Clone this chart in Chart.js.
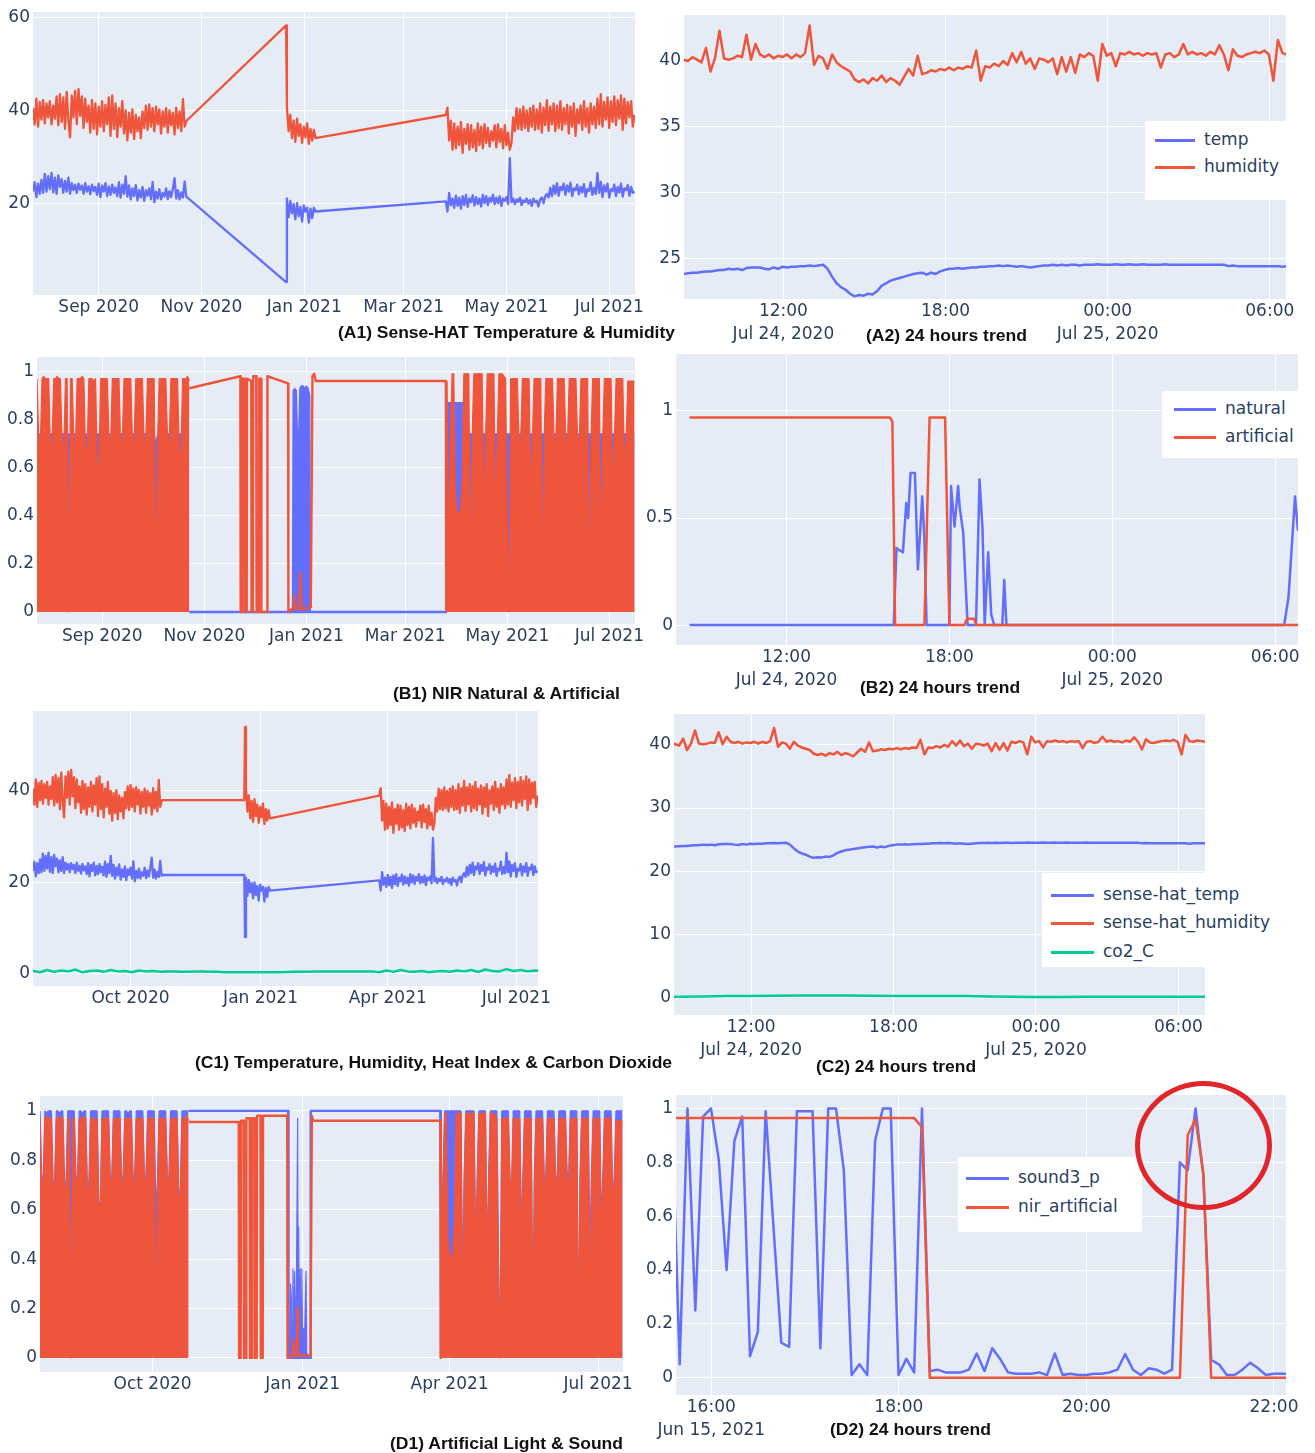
<!DOCTYPE html>
<html>
<head>
<meta charset="utf-8">
<title>Sense-HAT, NIR and sound trends</title>
<script src="https://cdn.jsdelivr.net/npm/chart.js@4.4.0/dist/chart.umd.min.js"></script>
<style>
  html, body { margin: 0; padding: 0; background: #fff; }
  body { position: relative; width: 1315px; height: 1453px; overflow: hidden; }
  canvas { position: absolute; }
  .cap { position: absolute; white-space: nowrap; font-family: "Liberation Sans Narrow", "Liberation Sans", Arial, sans-serif;
         font-weight: bold; font-size: 17px; line-height: 20px; color: #111; transform-origin: 0 50%; z-index: 2; }
  .leg { position: absolute; background: #fff; z-index: 2; }
  .leg .ln { position: absolute; height: 3px; }
  .leg .tx { position: absolute; white-space: nowrap; font: 17px "DejaVu Sans", sans-serif; line-height: 22px; color: #2a3f5f; }
  .ring { position: absolute; z-index: 3; border: 5px solid #e0262b; border-radius: 50%; box-sizing: border-box; }
</style>
</head>
<body>
<script>
const BLUE = '#636efa', RED = '#ef553b', GREEN = '#00cc96', TXT = '#2a3f5f';

// year charts: x = days since 24 Jul 2020
const DAY0 = Date.UTC(2020, 6, 24);
const dayOf = (y, m) => (Date.UTC(y, m - 1, 1) - DAY0) / 864e5;

const yearTicksA = [[2020, 9], [2020, 11], [2021, 1], [2021, 3], [2021, 5], [2021, 7]];
const yearLabelsA = ['Sep 2020', 'Nov 2020', 'Jan 2021', 'Mar 2021', 'May 2021', 'Jul 2021'];
const yearTicksC = [[2020, 10], [2021, 1], [2021, 4], [2021, 7]];
const yearLabelsC = ['Oct 2020', 'Jan 2021', 'Apr 2021', 'Jul 2021'];
// 24h charts: x = hours since 00:00 24 Jul 2020
const dayTicks = [12, 18, 24, 30];
const dayLabels = [['12:00', 'Jul 24, 2020'], '18:00', ['00:00', 'Jul 25, 2020'], '06:00'];
// D2: hours of 15 Jun 2021
const eveTicks = [16, 18, 20, 22];
const eveLabels = [['16:00', 'Jun 15, 2021'], '18:00', '20:00', '22:00'];

// ---- sense-hat humidity / temperature, one reading per day ----
// 24 Jul - 23 Oct 2020
const humSeg1 = [40.5, 37.0, 42.5, 36.5, 41.8, 38.0, 42.2, 37.2, 41.5, 38.5,
  42.0, 37.0, 41.0, 38.2, 43.0, 36.8, 43.5, 37.5, 42.8, 36.0,
  44.0, 37.8, 34.2, 43.2, 38.5, 44.2, 37.0, 44.6, 38.8, 43.0,
  36.2, 42.5, 37.5, 41.0, 35.2, 42.2, 36.0, 41.5, 34.8, 40.8,
  36.5, 42.0, 35.5, 41.2, 37.0, 42.8, 34.5, 43.2, 36.0, 41.5,
  34.2, 40.5, 36.5, 42.0, 35.0, 40.0, 33.5, 39.5, 35.2, 40.2,
  33.8, 39.0, 35.5, 38.5, 34.0, 39.8, 36.2, 41.0, 35.8, 41.3,
  36.5, 40.5, 35.5, 40.8, 37.0, 40.2, 35.0, 39.8, 36.5, 40.5,
  35.2, 40.0, 36.8, 39.5, 34.8, 40.6, 36.2, 39.8, 35.5, 42.4,
  36.5, 37.7];
const tempSeg1 = [22.5, 24.5, 21.3, 24.2, 22.0, 25.0, 22.2, 26.3, 22.5, 25.8,
  23.0, 26.5, 22.3, 25.5, 22.0, 26.0, 23.5, 25.2, 22.2, 24.8,
  22.5, 25.5, 22.0, 24.3, 22.8, 24.0, 22.2, 24.2, 22.9, 23.8,
  22.0, 24.3, 22.5, 23.6, 21.9, 24.0, 22.6, 23.5, 21.8, 24.2,
  21.3, 23.8, 22.5, 24.3, 21.5, 23.6, 21.8, 24.0, 22.2, 23.4,
  21.5, 24.5, 21.2, 24.0, 22.0, 25.8, 21.4, 23.8, 20.8, 23.2,
  21.5, 23.9, 20.6, 22.8, 21.2, 23.5, 20.5, 22.8, 21.6, 23.2,
  20.8, 24.6, 20.2, 22.5, 21.0, 23.0, 20.8, 22.2, 21.4, 23.2,
  20.9, 22.6, 21.3, 23.1, 25.4, 21.0, 22.8, 20.8, 22.3, 21.2,
  24.7, 21.4];
// 21 Dec 2020 - 7 Jan 2021
const humSeg2 = [40.6, 35.5, 39.0, 34.0, 37.8, 33.2, 38.2, 34.5, 37.0, 33.0, 36.5, 34.2, 37.2, 32.8, 36.0, 33.5, 35.8, 34.0];
const tempSeg2 = [21.0, 17.0, 20.5, 17.8, 19.8, 16.5, 20.0, 17.2, 19.2, 16.0, 19.5, 18.2, 19.0, 15.8, 18.8, 16.8, 19.0, 18.2];
// 26 Mar - 16 Jul 2021
const humSeg3 = [39.0, 40.6, 33.5, 37.8, 31.5, 37.2, 31.8, 36.5, 32.5, 37.5,
  30.8, 36.0, 32.8, 37.0, 31.5, 36.8, 32.0, 35.8, 31.2, 37.2,
  32.5, 36.5, 31.8, 37.0, 33.0, 36.2, 32.2, 35.5, 33.5, 36.8,
  32.0, 37.0, 33.2, 36.0, 31.8, 36.8, 32.5, 35.2, 31.5, 33.0,
  38.5, 35.5, 40.5, 36.0, 40.2, 35.8, 40.8, 36.2, 40.0, 35.5,
  40.5, 36.5, 41.0, 35.8, 40.2, 36.0, 41.5, 35.2, 40.6, 36.8,
  42.2, 35.6, 40.8, 37.0, 41.5, 35.5, 41.0, 36.2, 42.0, 35.8,
  40.5, 37.0, 41.2, 35.0, 40.8, 36.5, 41.5, 34.5, 40.2, 37.2,
  41.0, 35.8, 42.0, 36.5, 40.5, 35.2, 41.5, 37.0, 40.8, 36.2,
  42.5, 37.0, 43.5, 36.5, 41.8, 38.0, 42.8, 36.2, 42.0, 37.5,
  43.0, 36.8, 42.2, 38.2, 43.2, 35.8, 42.5, 37.2, 41.8, 38.5,
  42.0, 36.5, 39.0];
const tempSeg3 = [20.4, 18.2, 22.2, 19.5, 21.0, 19.0, 21.6, 19.4, 21.2, 18.8,
  21.5, 19.6, 21.8, 19.2, 21.0, 20.2, 21.7, 19.5, 21.3, 19.8,
  21.0, 19.3, 21.8, 20.0, 21.5, 19.6, 21.2, 20.3, 21.8, 19.8,
  21.2, 20.0, 21.5, 19.4, 21.0, 20.5, 21.3, 19.8, 29.7, 20.2,
  21.0, 19.8, 20.8, 20.3, 21.2, 19.6, 20.6, 20.2, 21.0, 19.9,
  20.7, 19.4, 21.0, 20.2, 20.5, 19.3, 20.8, 21.2, 20.0, 21.5,
  22.0, 21.2, 23.3, 21.5, 23.8, 22.0, 24.3, 21.6, 23.5, 22.8,
  24.2, 21.8, 23.8, 22.5, 24.4, 21.5, 23.2, 22.8, 24.0, 21.9,
  23.5, 22.3, 24.1, 21.4, 23.0, 22.6, 24.5, 21.8, 23.3, 22.0,
  26.5, 22.2, 24.6, 21.3, 23.8, 22.5, 24.2, 21.2, 23.0, 22.6,
  24.0, 21.5, 23.5, 22.3, 24.2, 21.4, 23.2, 22.8, 23.9, 21.6,
  23.5, 22.2, 22.5];
const SEG2_START = 150.7, SEG3_START = 245;
const a1GapX = [150.2], a1HumGap = [58.3], a1TempGap = [3.0];
const c1GapX = [91.5, 149.5, 150.0], c1HumGap = [38.0, 38.0, 54.0], c1TempGap = [21.6, 21.6, 8.0];
// co2_C, every 5 days
const co2Year = [0.6, 0.3, 0.8, 0.4, 0.7, 0.5, 0.9, 0.3, 0.6, 0.7, 0.4, 0.8, 0.5, 0.6, 0.3, 0.7, 0.5, 0.6, 0.4,
  0.5, 0.5, 0.4, 0.4, 0.5, 0.5, 0.4, 0.4, 0.3, 0.3, 0.3, 0.3, 0.3, 0.3, 0.3, 0.3, 0.3, 0.35, 0.4, 0.4, 0.4, 0.45, 0.5, 0.5, 0.5, 0.5, 0.5, 0.5, 0.45, 0.5,
  0.3, 0.7, 0.4, 0.8, 0.5, 0.4, 0.6, 0.3, 0.5, 0.6, 0.4, 0.7, 0.5, 0.8, 0.4, 0.9, 0.6, 0.5, 1.0, 0.6, 0.8, 0.5, 0.7, 0.6];

// ---- NIR artificial / natural and sound: daily peak level in % ----
const artSeg1 = [97, 72, 70, 97, 98, 97, 97, 97, 68, 70, 97, 97, 98, 97, 97, 70, 68, 97, 97, 0, 97,
  97, 72, 70, 97, 97, 97, 98, 97, 66, 68, 97, 97, 97, 96, 97, 62, 60, 97, 97, 97, 97,
  97, 72, 70, 97, 97, 97, 97, 97, 68, 72, 97, 97, 97, 97, 97, 72, 70, 97, 97, 97, 97,
  97, 70, 72, 97, 97, 97, 97, 97, 3, 70, 97, 97, 97, 97, 97, 72, 70, 97, 97, 97, 97,
  97, 66, 65, 97, 97, 97, 98, 96];
const artSeg3 = [96, 18, 70, 99, 99, 50, 42, 41, 42, 55,
  99, 99, 99, 99, 12, 72, 99, 99, 99, 99,
  99, 99, 38, 72, 99, 99, 99, 99, 99, 37,
  72, 99, 99, 99, 98, 97, 34, 0, 97, 97,
  97, 97, 97, 70, 72, 97, 97, 97, 97, 97,
  48, 72, 97, 97, 97, 97, 97, 12, 72, 97,
  97, 97, 97, 97, 70, 72, 97, 97, 97, 97,
  97, 70, 72, 97, 97, 97, 97, 97, 72, 70,
  97, 97, 97, 97, 97, 4, 72, 97, 97, 97,
  97, 97, 16, 72, 97, 97, 97, 97, 97, 48,
  72, 97, 97, 97, 97, 97, 60, 72, 96, 96,
  96, 96, 96];
const natSeg1 = [74, 74, 74, 74, 74, 73, 74, 74, 74, 74, 74, 72, 74, 74, 74, 74, 74, 74, 74, 74, 74,
  74, 74, 74, 74, 74, 74, 74, 74, 74, 74, 74, 74, 74, 74, 74, 74, 74, 74, 74, 74, 74,
  74, 74, 74, 74, 74, 74, 74, 74, 74, 74, 74, 74, 74, 74, 74, 74, 74, 74, 74, 74, 74,
  74, 74, 74, 74, 74, 74, 74, 74, 70, 74, 74, 74, 74, 74, 74, 74, 74, 74, 74, 74, 74,
  74, 74, 74, 74, 74, 74, 74, 74];
const natSeg3 = [87, 87, 87, 87, 87, 87, 87, 87, 87, 87, 87, 87, 87, 74, 74, 74, 74, 74, 74, 74,
  74, 74, 74, 74, 74, 74, 74, 74, 74, 74, 74, 74, 74, 74, 74, 74, 74, 74, 74, 74,
  74, 74, 74, 74, 74, 74, 74, 74, 74, 74, 74, 74, 74, 74, 74, 74, 74, 74, 74, 74,
  74, 74, 74, 74, 74, 74, 74, 74, 74, 74, 74, 74, 74, 74, 74, 74, 74, 74, 74, 74,
  74, 74, 74, 74, 74, 74, 74, 74, 74, 74, 74, 74, 74, 74, 74, 74, 74, 74, 74, 74,
  74, 74, 74, 74, 74, 74, 74, 74, 74, 74, 74, 74, 74];
const sndSeg1 = [100, 74, 73, 100, 99, 100, 100, 100, 70, 72, 100, 100, 99, 100,
  100, 72, 70, 100, 100, 100, 100, 100, 74, 72, 100, 100, 99, 100,
  100, 70, 71, 100, 100, 100, 100, 100, 64, 60, 100, 100, 100, 100,
  100, 74, 72, 100, 100, 100, 100, 100, 71, 74, 100, 100, 99, 100,
  100, 74, 72, 100, 100, 100, 100, 100, 72, 74, 100, 100, 100, 100,
  100, 60, 72, 100, 100, 100, 100, 100, 74, 72, 100, 100, 100, 100,
  100, 68, 67, 100, 100, 100, 100, 100];
const sndSeg3 = [100, 30, 74, 100, 100, 100, 100, 100, 100, 100,
  100, 100, 100, 100, 30, 74, 100, 100, 100, 100,
  100, 100, 42, 74, 100, 100, 100, 100, 100, 42,
  74, 100, 100, 100, 100, 100, 40, 2, 100, 100,
  100, 100, 100, 74, 50, 100, 100, 100, 100, 100,
  52, 74, 100, 100, 100, 100, 100, 15, 74, 100,
  100, 100, 100, 100, 74, 72, 100, 100, 100, 100,
  100, 74, 72, 100, 100, 100, 100, 100, 76, 72,
  100, 100, 100, 100, 100, 6, 74, 100, 100, 100,
  100, 100, 42, 74, 100, 100, 100, 100, 100, 55,
  74, 100, 100, 100, 100, 100, 64, 74, 100, 100,
  100, 100, 100];
// sparse readings while the logger was mostly off (day, level)
const b1ArtGapX = [91, 121.5, 121.7, 122.5, 122.7, 124.0, 124.2, 125.3, 125.5, 128.0, 128.2, 129.0, 129.2, 131.0, 131.2, 132.6, 132.8,
  133.9, 134.1, 137.5, 137.7, 150.0, 150.2, 153.5, 154.0, 154.5, 157.0, 157.5, 158.0, 163.6, 164.6, 165.6, 166.6, 244.3, 244.5];
const b1ArtGapY = [0.93, 0.98, 0, 0, 0.97, 0.97, 0, 0, 0.97, 0.96, 0, 0, 0.98, 0.98, 0, 0, 0.97,
  0.97, 0, 0, 0.98, 0.95, 0, 0.02, 0.07, 0.01, 0.02, 0.16, 0.01, 0.02, 0.98, 0.99, 0.96, 0.96, 0];
const b1NatGapX = [91, 245], b1NatGapY = [0, 0];
const natBlockX = [152.6, 153, 154, 155, 156, 157, 158, 159, 160, 161, 162, 163, 163.4];
const natBlockY = [0, 0.92, 0.93, 0.92, 0.64, 0.93, 0.94, 0.94, 0.93, 0.94, 0.93, 0.9, 0];
const d1ArtGapX = [91.2, 121.8, 122.0, 123.0, 123.2, 124.8, 125.0, 126.3, 126.5, 128.5, 128.7, 129.7, 129.9, 131.4, 131.6, 132.8, 133.0,
  135.1, 135.3, 136.5, 136.7, 151.5, 151.7, 155.0, 155.3, 155.6, 157.5, 157.8, 158.1, 165.8, 166.6, 167.4, 245.4, 245.6];
const d1ArtGapY = [0.955, 0.955, 0, 0, 0.96, 0.96, 0, 0, 0.97, 0.97, 0, 0, 0.97, 0.97, 0, 0, 0.98,
  0.98, 0, 0, 0.98, 0.98, 0, 0.01, 0.07, 0.01, 0.01, 0.2, 0.01, 0.01, 0.98, 0.96, 0.96, 0];
const d1SndGapX = [91.2, 152.0, 152.3, 165.6, 165.9, 245.6, 245.8], d1SndGapY = [1, 1, 0, 0, 1, 1, 0];
const sndBlockX = [152.5, 153, 153.5, 154, 154.5, 155, 155.5, 156, 156.9, 157.9, 158.2, 158.5, 159, 159.5, 160, 160.5, 161, 161.5, 162, 163, 163.5, 165];
const sndBlockY = [0, 0.05, 0.3, 0.25, 0.02, 0.36, 0.03, 0.35, 0.05, 0.97, 0.05, 0.53, 0.04, 0.36, 0.05, 0.36, 0.03, 0.12, 0.03, 0.35, 0.02, 0];

// ---- 24 hours, 24-25 Jul 2020, 10-minute readings ----
const H_START = 8.3, H_STEP = 1 / 6;
const hum24 = [40.1, 40.0, 40.3, 40.1, 39.9, 41.0, 39.2, 40.2, 42.3, 40.2,
  40.1, 40.2, 40.4, 40.3, 42.0, 40.1, 41.3, 40.5, 40.3, 40.5,
  40.2, 40.4, 40.3, 40.5, 40.2, 40.5, 40.3, 40.6, 42.7, 39.7,
  40.4, 40.2, 39.4, 40.5, 39.9, 39.6, 39.4, 39.2, 38.6, 38.4,
  38.6, 38.3, 38.7, 38.5, 38.9, 38.4, 38.7, 38.5, 38.2, 38.8,
  39.4, 38.9, 40.4, 39.0, 39.1, 39.3, 39.2, 39.4, 39.3, 39.5,
  39.3, 39.5, 39.4, 39.6, 39.5, 40.8, 38.5, 39.6, 39.5, 39.8,
  39.6, 40.0, 39.7, 40.6, 39.9, 40.7, 39.8, 40.2, 39.4, 40.2,
  40.1, 39.9, 40.2, 39.0, 40.3, 39.2, 40.3, 39.1, 40.5, 40.3,
  40.6, 40.4, 38.5, 41.3, 40.4, 40.6, 39.6, 40.6, 40.5, 40.7,
  40.5, 40.6, 40.4, 40.6, 40.5, 40.6, 39.5, 40.5, 40.6, 40.3,
  40.5, 41.3, 40.5, 40.7, 40.5, 40.6, 40.4, 40.7, 40.5, 41.2,
  40.5, 39.3, 40.9, 40.4, 40.3, 40.5, 40.6, 40.7, 40.6, 40.8,
  40.5, 38.5, 41.6, 40.6, 40.5, 40.7, 40.6, 40.5];
const temp24 = [23.8, 23.85, 23.9, 23.9, 23.95, 24.0, 24.0, 24.05, 24.1, 24.1,
  24.2, 24.15, 24.2, 24.1, 24.25, 24.3, 24.3, 24.3, 24.2, 24.15,
  24.3, 24.2, 24.35, 24.3, 24.35, 24.35, 24.4, 24.4, 24.45, 24.4,
  24.45, 24.5, 24.2, 23.6, 23.1, 22.8, 22.6, 22.3, 22.1, 22.2,
  22.15, 22.3, 22.25, 22.5, 22.9, 23.1, 23.3, 23.4, 23.5, 23.6,
  23.7, 23.8, 23.85, 23.9, 23.75, 23.9, 23.8, 24.0, 24.1, 24.2,
  24.2, 24.25, 24.2, 24.25, 24.3, 24.3, 24.35, 24.35, 24.4, 24.4,
  24.45, 24.4, 24.45, 24.4, 24.35, 24.4, 24.35, 24.3, 24.35, 24.4,
  24.45, 24.45, 24.5, 24.45, 24.5, 24.45, 24.5, 24.5, 24.45, 24.5,
  24.5, 24.5, 24.55, 24.5, 24.5, 24.5, 24.55, 24.5, 24.5, 24.55,
  24.5, 24.5, 24.55, 24.5, 24.5, 24.5, 24.5, 24.55, 24.5, 24.5,
  24.5, 24.5, 24.5, 24.5, 24.5, 24.5, 24.5, 24.5, 24.5, 24.5,
  24.5, 24.4, 24.45, 24.4, 24.4, 24.4, 24.4, 24.4, 24.4, 24.4,
  24.4, 24.4, 24.4, 24.35, 24.4, 24.4, 24.4, 24.4];
const co2_24 = [0.1, 0.1, 0.15, 0.2, 0.2, 0.25, 0.3, 0.3, 0.3, 0.25, 0.2, 0.2, 0.2, 0.2, 0.15, 0.1, 0.05, 0.05, 0.1, 0.1, 0.1, 0.1, 0.1, 0.1, 0.1];
const natT = [8.43, 15.95, 16.05, 16.15, 16.29, 16.41, 16.48, 16.57, 16.73, 16.84, 17.0, 17.08, 17.16, 18.0, 18.06, 18.19, 18.32,
  18.38, 18.51, 18.67, 18.98, 19.11, 19.22, 19.3, 19.43, 19.54, 19.65, 19.95, 20.02, 20.1, 30.33, 30.49, 30.73, 30.84];
const natV = [0, 0, 0.36, 0.35, 0.34, 0.57, 0.5, 0.71, 0.71, 0.26, 0.6, 0.4, 0, 0, 0.65, 0.46, 0.65,
  0.55, 0.43, 0, 0, 0.68, 0.45, 0, 0.34, 0.05, 0, 0, 0.21, 0, 0, 0.13, 0.6, 0.44];
const artT = [8.43, 15.81, 15.9, 16.0, 17.08, 17.27, 17.84, 18.0, 18.55, 18.65, 18.9, 19.0, 30.86];
const artV = [0.97, 0.97, 0.95, 0, 0, 0.97, 0.97, 0, 0, 0.03, 0.03, 0, 0];

// ---- evening of 15 Jun 2021, 5-minute readings ----
const S_START = 15.58, S_STEP = 1 / 12;
const sound3 = [0.98, 0.05, 1.0, 0.25, 0.97, 1.0, 0.81, 0.4, 0.88, 0.97,
  0.08, 0.17, 0.99, 0.56, 0.13, 0.115, 0.99, 0.99, 0.99, 0.11,
  1.0, 1.0, 0.77, 0.01, 0.05, 0.01, 0.88, 1.0, 1.0, 0.01,
  0.07, 0.02, 1.0, 0.025, 0.03, 0.02, 0.02, 0.02, 0.03, 0.09,
  0.025, 0.11, 0.07, 0.02, 0.015, 0.015, 0.015, 0.02, 0.01, 0.09,
  0.01, 0.015, 0.01, 0.01, 0.015, 0.015, 0.02, 0.03, 0.088, 0.03,
  0.01, 0.035, 0.03, 0.015, 0.03, 0.8, 0.77, 1.0, 0.75, 0.066,
  0.05, 0.01, 0.01, 0.03, 0.056, 0.035, 0.01, 0.015, 0.015, 0.015];
const nirT = [15.58, 18.163, 18.247, 18.33, 20.997, 21.08, 21.163, 21.247, 21.33, 22.2];
const nirV = [0.965, 0.965, 0.93, 0, 0, 0.9, 0.96, 0.76, 0, 0];
const ringAt = [21.25, 0.864];

// ---------- helpers ----------
const daily = (start, arr, k = 1) => arr.map((v, i) => ({x: start + i, y: v * k}));
const every = (start, step, arr) => arr.map((v, i) => ({x: start + i * step, y: v}));
const pairs = (xs, ys) => xs.map((x, i) => ({x: x, y: ys[i]}));
const line = (label, data, color, order, width) =>
  ({label, data, borderColor: color, backgroundColor: color, borderWidth: width || 2.5, order, fill: false});
const area = (label, data, color, order) =>
  ({label, data, borderColor: color, backgroundColor: color, borderWidth: 1.2, order, fill: 'origin'});

const plotBg = {
  id: 'plotBg',
  beforeDraw(c) {
    const a = c.chartArea, ctx = c.ctx;
    ctx.save();
    ctx.fillStyle = '#e5ecf6';
    ctx.fillRect(a.left, a.top, a.right - a.left, a.bottom - a.top);
    ctx.restore();
  }
};

function makeChart(c) {
  const padL = 48, padR = 40, padT = 24, padB = 64;
  const [L, T, R, B] = c.rect;
  const cv = document.createElement('canvas');
  const w = R - L + padL + padR, h = B - T + padT + padB;
  cv.width = w; cv.height = h;
  cv.style.cssText = `left:${L - padL}px;top:${T - padT}px;width:${w}px;height:${h}px`;
  document.body.appendChild(cv);
  const font = {family: '"DejaVu Sans", sans-serif', size: 17, lineHeight: 1.35};
  const grid = {color: '#ffffff', lineWidth: 1, drawTicks: false};
  return new Chart(cv, {
    type: 'line',
    data: {datasets: c.datasets},
    options: {
      responsive: false, animation: false, events: [],
      layout: {autoPadding: false, padding: {top: padT, right: padR, left: 0, bottom: 0}},
      elements: {point: {radius: 0}, line: {tension: 0, borderJoinStyle: 'round'}},
      plugins: {legend: {display: false}, tooltip: {enabled: false}},
      scales: {
        x: {type: 'linear', min: c.x[0], max: c.x[1],
          afterBuildTicks: s => { s.ticks = c.xt.map(v => ({value: v})); },
          afterFit: s => { s.height = padB; },
          ticks: {autoSkip: false, maxRotation: 0, minRotation: 0, padding: 1, color: TXT, font,
            callback: (v, i) => c.xl[i]},
          grid, border: {display: false}},
        y: {type: 'linear', min: c.y[0], max: c.y[1],
          afterBuildTicks: s => { s.ticks = c.yt.map(v => ({value: v})); },
          afterFit: s => { s.width = padL; },
          ticks: {padding: 3, color: TXT, font, callback: v => String(v)},
          grid, border: {display: false}}
      }
    },
    plugins: [plotBg]
  });
}

const xtA = yearTicksA.map(t => dayOf(t[0], t[1]));
const xtC = yearTicksC.map(t => dayOf(t[0], t[1]));
const YEAR = [0, 357.3];
const unitTicks = [0, 0.2, 0.4, 0.6, 0.8, 1];
const BAND = 2.3; // dense sense-hat traces

// A1
makeChart({rect: [33, 12, 635, 295], x: YEAR, y: [0.2, 61.2], xt: xtA, xl: yearLabelsA, yt: [20, 40, 60],
  datasets: [
    line('temp', [...daily(0, tempSeg1), ...pairs(a1GapX, a1TempGap), ...daily(SEG2_START, tempSeg2), ...daily(SEG3_START, tempSeg3)], BLUE, 2, BAND),
    line('humidity', [...daily(0, humSeg1), ...pairs(a1GapX, a1HumGap), ...daily(SEG2_START, humSeg2), ...daily(SEG3_START, humSeg3)], RED, 1, BAND)
  ]});

// A2
makeChart({rect: [684, 15, 1286, 299], x: [8.32, 30.6], y: [21.9, 43.5], xt: dayTicks, xl: dayLabels, yt: [25, 30, 35, 40],
  datasets: [
    line('temp', every(H_START, H_STEP, temp24), BLUE, 2),
    line('humidity', every(H_START, H_STEP, hum24), RED, 1)
  ]});

// B1
makeChart({rect: [37, 357, 635, 624], x: YEAR, y: [-0.05, 1.06], xt: xtA, xl: yearLabelsA, yt: unitTicks,
  datasets: [
    area('natural', daily(0, natSeg1, 0.01), BLUE, 2),
    area('natural', pairs(natBlockX, natBlockY), BLUE, 2),
    area('natural', daily(SEG3_START, natSeg3, 0.01), BLUE, 2),
    line('natural', pairs(b1NatGapX, b1NatGapY), BLUE, 2),
    area('artificial', daily(0, artSeg1, 0.01), RED, 1),
    area('artificial', daily(SEG3_START, artSeg3, 0.01), RED, 1),
    line('artificial', pairs(b1ArtGapX, b1ArtGapY), RED, 1, 2.4)
  ]});

// B2
makeChart({rect: [676, 354, 1298, 645], x: [7.93, 30.84], y: [-0.093, 1.266], xt: dayTicks, xl: dayLabels, yt: [0, 0.5, 1],
  datasets: [
    line('natural', pairs(natT, natV), BLUE, 2),
    line('artificial', pairs(artT, artV), RED, 1)
  ]});

// C1
makeChart({rect: [33, 711, 538, 986], x: YEAR, y: [-2.7, 57.5], xt: xtC, xl: yearLabelsC, yt: [0, 20, 40],
  datasets: [
    line('sense-hat_temp', [...daily(0, tempSeg1), ...pairs(c1GapX, c1TempGap), ...daily(SEG2_START, tempSeg2), ...daily(SEG3_START, tempSeg3)], BLUE, 3, BAND),
    line('sense-hat_humidity', [...daily(0, humSeg1), ...pairs(c1GapX, c1HumGap), ...daily(SEG2_START, humSeg2), ...daily(SEG3_START, humSeg3)], RED, 2, BAND),
    line('co2_C', every(0, 5, co2Year), GREEN, 1, 2.5)
  ]});

// C2
makeChart({rect: [674, 714, 1205, 1015], x: [8.75, 31.12], y: [-2.8, 44.9], xt: dayTicks, xl: dayLabels, yt: [0, 10, 20, 30, 40],
  datasets: [
    line('sense-hat_temp', every(H_START, H_STEP, temp24), BLUE, 3),
    line('sense-hat_humidity', every(H_START, H_STEP, hum24), RED, 2),
    line('co2_C', every(8, 1, co2_24), GREEN, 1)
  ]});

// D1
makeChart({rect: [40, 1096, 623, 1372], x: YEAR, y: [-0.057, 1.06], xt: xtC, xl: yearLabelsC, yt: unitTicks,
  datasets: [
    area('sound3_p', daily(0, sndSeg1, 0.01), BLUE, 2),
    area('sound3_p', pairs(sndBlockX, sndBlockY), BLUE, 2),
    area('sound3_p', daily(SEG3_START, sndSeg3, 0.01), BLUE, 2),
    line('sound3_p', pairs(d1SndGapX, d1SndGapY), BLUE, 2, 2.4),
    area('nir_artificial', daily(0, artSeg1, 0.01), RED, 1),
    area('nir_artificial', daily(SEG3_START, artSeg3, 0.01), RED, 1),
    line('nir_artificial', pairs(d1ArtGapX, d1ArtGapY), RED, 1, 2.4)
  ]});

// D2
const d2 = makeChart({rect: [676, 1095, 1286, 1395], x: [15.624, 22.128], y: [-0.064, 1.05], xt: eveTicks, xl: eveLabels, yt: unitTicks,
  datasets: [
    line('sound3_p', every(S_START, S_STEP, sound3), BLUE, 2),
    line('nir_artificial', pairs(nirT, nirV), RED, 1)
  ]});

// ---------- legends, captions, highlight ring ----------
const legends = [
  {box: [1145, 121, 141, 79], rows: [140, 167], line: [1155, 1195], tx: 1204, items: [['temp', BLUE], ['humidity', RED]]},
  {box: [1162, 391, 136, 67], rows: [409, 437], line: [1174, 1216], tx: 1225, items: [['natural', BLUE], ['artificial', RED]]},
  {box: [1042, 873, 258, 94], rows: [895, 923, 952], line: [1051, 1094], tx: 1103,
    items: [['sense-hat_temp', BLUE], ['sense-hat_humidity', RED], ['co2_C', GREEN]]},
  {box: [958, 1157, 184, 75], rows: [1178, 1207], line: [966, 1009], tx: 1018, items: [['sound3_p', BLUE], ['nir_artificial', RED]]}
];
legends.forEach(g => {
  const box = document.createElement('div');
  box.className = 'leg';
  box.style.cssText = `left:${g.box[0]}px;top:${g.box[1]}px;width:${g.box[2]}px;height:${g.box[3]}px`;
  g.items.forEach((it, i) => {
    const y = g.rows[i] - g.box[1];
    const ln = document.createElement('div');
    ln.className = 'ln';
    ln.style.cssText = `left:${g.line[0] - g.box[0]}px;top:${y - 1.5}px;width:${g.line[1] - g.line[0]}px;background:${it[1]}`;
    const tx = document.createElement('div');
    tx.className = 'tx';
    tx.textContent = it[0];
    tx.style.cssText = `left:${g.tx - g.box[0]}px;top:${y - 12}px`;
    box.append(ln, tx);
  });
  document.body.appendChild(box);
});

const captions = [
  ['(A1) Sense-HAT Temperature & Humidity', 338, 333, 337],
  ['(A2) 24 hours trend', 866, 336, 161],
  ['(B1) NIR Natural & Artificial', 393, 694, 227],
  ['(B2) 24 hours trend', 860, 688, 160],
  ['(C1) Temperature, Humidity, Heat Index & Carbon Dioxide', 195, 1063, 477],
  ['(C2) 24 hours trend', 816, 1067, 160],
  ['(D1) Artificial Light & Sound', 390, 1444, 233],
  ['(D2) 24 hours trend', 830, 1430, 161]
];
captions.forEach(c => {
  const d = document.createElement('div');
  d.className = 'cap';
  d.textContent = c[0];
  d.style.left = c[1] + 'px';
  d.style.top = (c[2] - 10) + 'px';
  document.body.appendChild(d);
  d.style.transform = `scaleX(${(c[3] / d.getBoundingClientRect().width).toFixed(3)})`;
});

const ring = document.createElement('div');
ring.className = 'ring';
const rcx = d2.canvas.offsetLeft + d2.scales.x.getPixelForValue(ringAt[0]);
const rcy = d2.canvas.offsetTop + d2.scales.y.getPixelForValue(ringAt[1]);
ring.style.cssText = `left:${rcx - 68.5}px;top:${rcy - 64.5}px;width:137px;height:129px`;
document.body.appendChild(ring);
</script>
</body>
</html>
